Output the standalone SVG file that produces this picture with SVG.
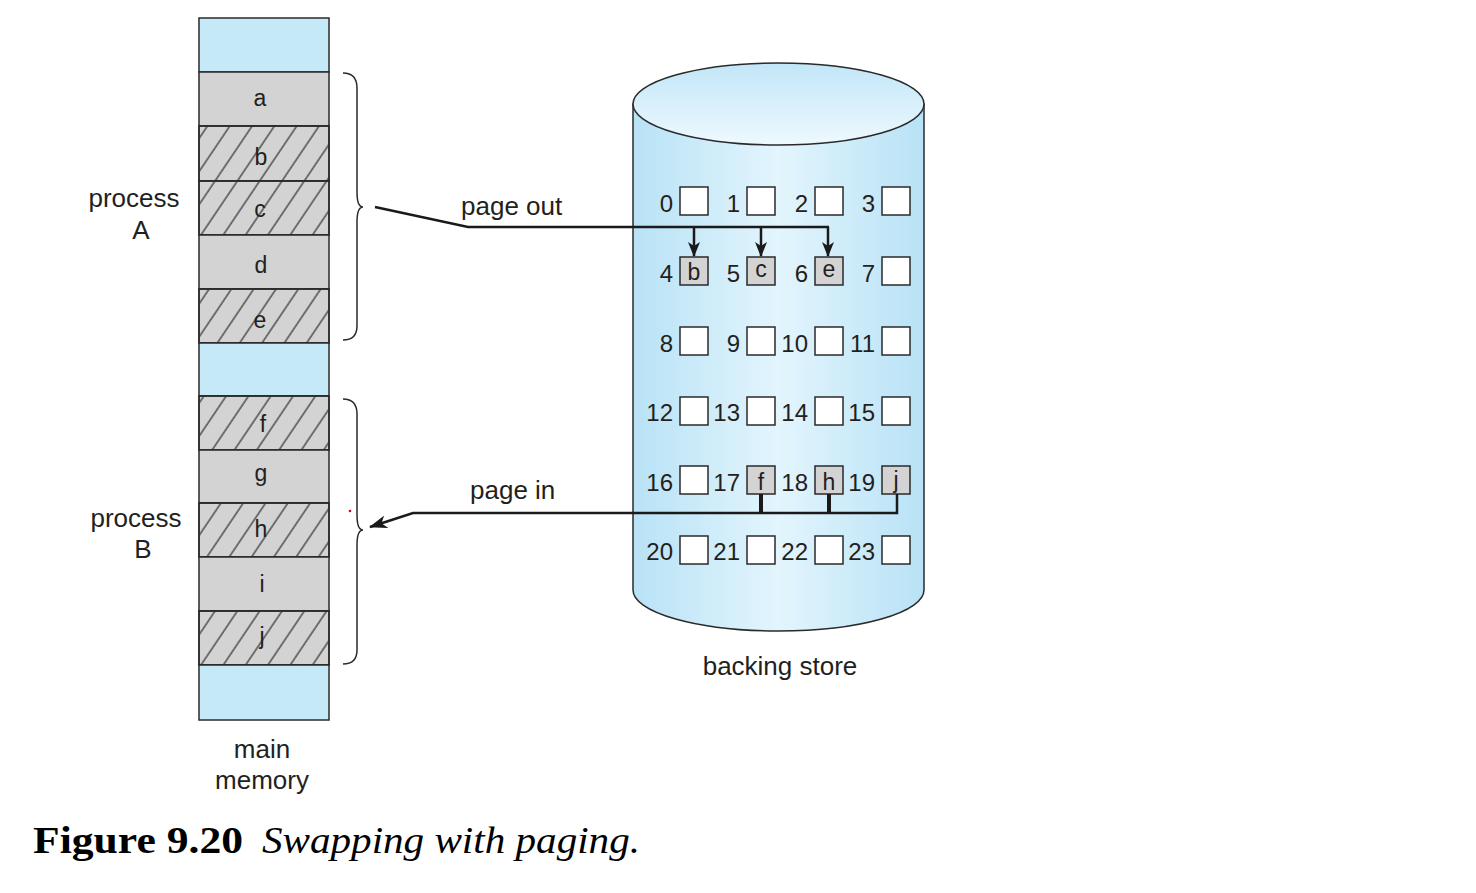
<svg xmlns="http://www.w3.org/2000/svg" width="1476" height="893" viewBox="0 0 1476 893">
<defs>
<pattern id="hatch" patternUnits="userSpaceOnUse" width="18.5" height="20" patternTransform="rotate(34)">
<line x1="2" y1="0" x2="2" y2="20" stroke="#444" stroke-width="1.4"/>
</pattern>
<linearGradient id="cylBody" x1="0" y1="0" x2="1" y2="0">
<stop offset="0" stop-color="#b8e2f6"/>
<stop offset="0.5" stop-color="#e3f5fd"/>
<stop offset="1" stop-color="#b8e2f6"/>
</linearGradient>
<linearGradient id="cylTop" x1="0" y1="0" x2="0" y2="1">
<stop offset="0" stop-color="#c2e6f8"/>
<stop offset="1" stop-color="#eef9fe"/>
</linearGradient>
<marker id="ah" viewBox="0 0 15 12" refX="14" refY="6" markerWidth="15" markerHeight="12" orient="auto" markerUnits="userSpaceOnUse">
<path d="M0,0 L15,6 L0,12 L4,6 Z" fill="#1a1a1a"/>
</marker>
<marker id="ah2" viewBox="0 0 18 13" refX="17" refY="6.5" markerWidth="18" markerHeight="13" orient="auto" markerUnits="userSpaceOnUse">
<path d="M0,0 L18,6.5 L0,13 L5,6.5 Z" fill="#1a1a1a"/>
</marker>
</defs>
<style>
.lbl{font-family:"Liberation Sans",Arial,sans-serif;font-size:26px;fill:#231f20}
.num{font-family:"Liberation Sans",Arial,sans-serif;font-size:24px;fill:#231f20;text-anchor:end}
.mem{font-family:"Liberation Sans",Arial,sans-serif;font-size:23px;fill:#231f20;text-anchor:middle}
.blue{fill:#c6e9f8;stroke:#2a2a2a;stroke-width:1.5}
.gray{fill:#d3d3d3;stroke:#2a2a2a;stroke-width:1.5}
.hat{fill:url(#hatch);stroke:#2a2a2a;stroke-width:1.5}
.box{fill:#ffffff;stroke:#2a2a2a;stroke-width:1.5}
.boxf{fill:#d3d3d3;stroke:#2a2a2a;stroke-width:1.5}
.brace{fill:none;stroke:#2a2a2a;stroke-width:1.5}
.conn{fill:none;stroke:#1a1a1a;stroke-width:2.5}
</style>
<rect width="1476" height="893" fill="#ffffff"/>

<g id="main-memory">
<rect class="blue" x="199" y="18" width="130" height="54"/>
<rect class="gray" x="199" y="72" width="130" height="54"/>
<rect class="gray" x="199" y="126" width="130" height="55"/>
<rect class="hat" x="199" y="126" width="130" height="55"/>
<rect class="gray" x="199" y="181" width="130" height="54"/>
<rect class="hat" x="199" y="181" width="130" height="54"/>
<rect class="gray" x="199" y="235" width="130" height="54"/>
<rect class="gray" x="199" y="289" width="130" height="54"/>
<rect class="hat" x="199" y="289" width="130" height="54"/>
<rect class="blue" x="199" y="343" width="130" height="53"/>
<rect class="gray" x="199" y="396" width="130" height="54"/>
<rect class="hat" x="199" y="396" width="130" height="54"/>
<rect class="gray" x="199" y="450" width="130" height="53"/>
<rect class="gray" x="199" y="503" width="130" height="54"/>
<rect class="hat" x="199" y="503" width="130" height="54"/>
<rect class="gray" x="199" y="557" width="130" height="54"/>
<rect class="gray" x="199" y="611" width="130" height="54"/>
<rect class="hat" x="199" y="611" width="130" height="54"/>
<rect class="blue" x="199" y="665" width="130" height="55"/>
<text class="mem" x="260" y="106">a</text>
<text class="mem" x="261" y="165">b</text>
<text class="mem" x="260" y="217">c</text>
<text class="mem" x="261" y="273">d</text>
<text class="mem" x="260" y="328">e</text>
<text class="mem" x="263" y="432">f</text>
<text class="mem" x="261" y="481">g</text>
<text class="mem" x="261" y="537">h</text>
<text class="mem" x="262" y="592">i</text>
<text class="mem" x="262" y="644">j</text>
<text class="lbl" x="262" y="758" text-anchor="middle">main</text>
<text class="lbl" x="262" y="789" text-anchor="middle">memory</text>
</g>

<g id="process-a">
<path class="brace" d="M343,73 Q357,73 357,88 L357,192 Q357,207 363,207 Q357,207 357,222 L357,326 Q357,340 343,340"/>
<text class="lbl" x="134" y="207" text-anchor="middle">process</text>
<text class="lbl" x="141" y="239" text-anchor="middle">A</text>
</g>

<g id="process-b">
<path class="brace" d="M343,399 Q357,399 357,414 L357,515 Q357,530 363,530 Q357,530 357,545 L357,650 Q357,664 343,664"/>
<text class="lbl" x="136" y="527" text-anchor="middle">process</text>
<text class="lbl" x="143" y="558" text-anchor="middle">B</text>
<circle cx="350" cy="511" r="1.3" fill="#d0021b"/>
</g>

<g id="backing-store">
<path d="M633,104 L633,590 A145.5,41 0 0 0 924,590 L924,104 Z" fill="url(#cylBody)" stroke="#2a2a2a" stroke-width="1.5"/>
<ellipse cx="778.5" cy="104" rx="145.5" ry="41" fill="url(#cylTop)" stroke="#2a2a2a" stroke-width="1.5"/>
<text class="lbl" x="780" y="675" text-anchor="middle">backing store</text>

<rect class="box" x="680" y="187" width="28" height="28"/>
<rect class="box" x="747" y="187" width="28" height="28"/>
<rect class="box" x="815" y="187" width="28" height="28"/>
<rect class="box" x="882" y="187" width="28" height="28"/>
<text class="num" x="673" y="212">0</text>
<text class="num" x="740" y="212">1</text>
<text class="num" x="808" y="212">2</text>
<text class="num" x="875" y="212">3</text>

<rect class="boxf" x="680" y="257" width="28" height="28"/>
<rect class="boxf" x="747" y="257" width="28" height="28"/>
<rect class="boxf" x="815" y="257" width="28" height="28"/>
<rect class="box" x="882" y="257" width="28" height="28"/>
<text class="num" x="673" y="282">4</text>
<text class="num" x="740" y="282">5</text>
<text class="num" x="808" y="282">6</text>
<text class="num" x="875" y="282">7</text>
<text class="mem" x="694" y="280">b</text>
<text class="mem" x="761" y="277">c</text>
<text class="mem" x="829" y="277">e</text>

<rect class="box" x="680" y="327" width="28" height="28"/>
<rect class="box" x="747" y="327" width="28" height="28"/>
<rect class="box" x="815" y="327" width="28" height="28"/>
<rect class="box" x="882" y="327" width="28" height="28"/>
<text class="num" x="673" y="352">8</text>
<text class="num" x="740" y="352">9</text>
<text class="num" x="808" y="352">10</text>
<text class="num" x="875" y="352">11</text>

<rect class="box" x="680" y="397" width="28" height="28"/>
<rect class="box" x="747" y="397" width="28" height="28"/>
<rect class="box" x="815" y="397" width="28" height="28"/>
<rect class="box" x="882" y="397" width="28" height="28"/>
<text class="num" x="673" y="421">12</text>
<text class="num" x="740" y="421">13</text>
<text class="num" x="808" y="421">14</text>
<text class="num" x="875" y="421">15</text>

<rect class="box" x="680" y="466" width="28" height="28"/>
<rect class="boxf" x="747" y="466" width="28" height="28"/>
<rect class="boxf" x="815" y="466" width="28" height="28"/>
<rect class="boxf" x="882" y="466" width="28" height="28"/>
<text class="num" x="673" y="491">16</text>
<text class="num" x="740" y="491">17</text>
<text class="num" x="808" y="491">18</text>
<text class="num" x="875" y="491">19</text>
<text class="mem" x="761" y="490">f</text>
<text class="mem" x="829" y="490">h</text>
<text class="mem" x="896" y="488">j</text>

<rect class="box" x="680" y="536" width="28" height="28"/>
<rect class="box" x="747" y="536" width="28" height="28"/>
<rect class="box" x="815" y="536" width="28" height="28"/>
<rect class="box" x="882" y="536" width="28" height="28"/>
<text class="num" x="673" y="560">20</text>
<text class="num" x="740" y="560">21</text>
<text class="num" x="808" y="560">22</text>
<text class="num" x="875" y="560">23</text>
</g>

<g id="connectors">
<polyline class="conn" points="375,207 468,227 829,227"/>
<line class="conn" x1="694" y1="227" x2="694" y2="256" marker-end="url(#ah)"/>
<line class="conn" x1="761" y1="227" x2="761" y2="256" marker-end="url(#ah)"/>
<line class="conn" x1="828" y1="227" x2="828" y2="256" marker-end="url(#ah)"/>
<text class="lbl" x="461" y="215">page out</text>

<line x1="761" y1="494" x2="761" y2="513" stroke="#1a1a1a" stroke-width="4"/>
<line x1="829" y1="494" x2="829" y2="513" stroke="#1a1a1a" stroke-width="4"/>
<polyline class="conn" points="897,494 897,513 413,513 370,527" stroke-width="3" marker-end="url(#ah2)"/>
<text class="lbl" x="470" y="499">page in</text>
</g>

<g id="caption">
<text x="33" y="853" font-family="Liberation Serif,'Times New Roman',serif" font-weight="bold" font-size="38" fill="#000" textLength="210" lengthAdjust="spacingAndGlyphs">Figure 9.20</text>
<text x="262" y="853" font-family="Liberation Serif,'Times New Roman',serif" font-style="italic" font-size="38" fill="#000" textLength="378" lengthAdjust="spacingAndGlyphs">Swapping with paging.</text>
</g>
</svg>
